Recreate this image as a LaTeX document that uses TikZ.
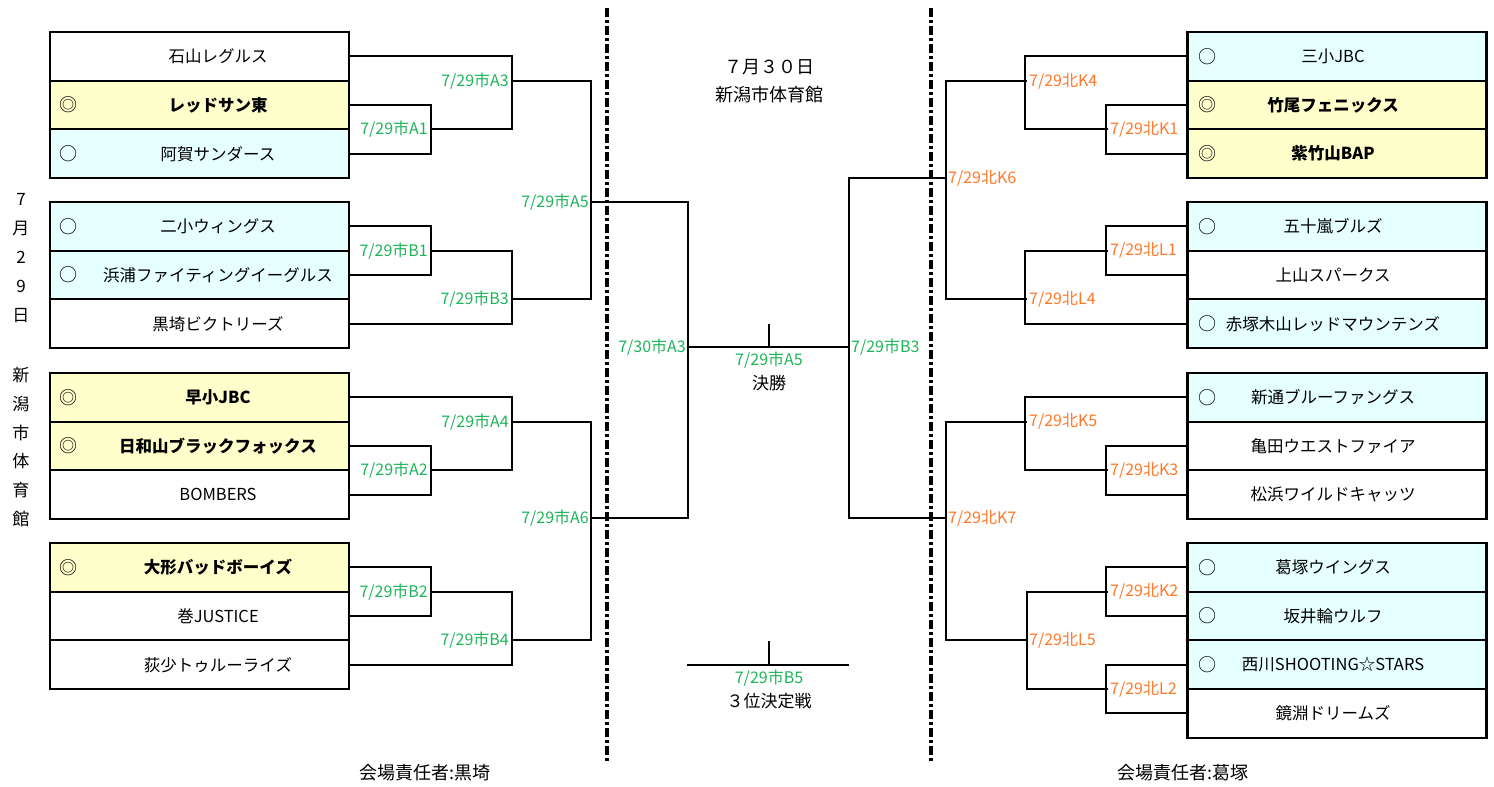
\documentclass[tikz,border=0pt]{standalone}
\usepackage{fontspec}
\setmainfont{Noto Sans CJK JP}
\usetikzlibrary{positioning}
\definecolor{amarillo}{RGB}{255,255,204}
\definecolor{celeste}{RGB}{230,255,255}
\definecolor{verde}{RGB}{30,180,90}
\definecolor{naranja}{RGB}{255,120,40}
\tikzset{
  fila/.style={draw, line width=2.1pt, minimum width=299pt, minimum height=48.7pt, inner sep=0pt},
  equipo/.style={font=\fontsize{16.5}{19}\selectfont, inner sep=0pt},
  marca/.style={font=\fontsize{18}{20}\selectfont, inner sep=0pt},
  llave/.style={line width=2pt},
  partidoA/.style={text=verde, font=\fontsize{16}{18}\selectfont, inner sep=2pt},
  partidoK/.style={text=naranja, font=\fontsize{16}{18}\selectfont, inner sep=2pt},
  texto/.style={font=\fontsize{17}{20}\selectfont, inner sep=0pt},
  separador/.style={line width=3.2pt, dash pattern=on 9pt off 3pt on 3pt off 3pt}
}

\begin{document}
\begin{tikzpicture}[x=1pt,y=-1pt]
        \useasboundingbox (0,0) rectangle (1494,787);

        % Equipos de la izquierda
        \foreach \n/\y/\c/\m/\t in {
          1/56.35/white/{}/{石山レグルス},
          2/105.05/amarillo/◎/{\bfseries レッドサン東},
          3/153.75/celeste/○/{阿賀サンダース},
          4/226.35/celeste/○/{二小ウィングス},
          5/275.05/celeste/○/{浜浦ファイティングイーグルス},
          6/323.75/white/{}/{黒埼ビクトリーズ},
          7/397.35/amarillo/◎/{\bfseries 早小JBC},
          8/446.05/amarillo/◎/{\bfseries 日和山ブラックフォックス},
          9/494.75/white/{}/{BOMBERS},
          10/567.35/amarillo/◎/{\bfseries 大形バッドボーイズ},
          11/616.05/white/{}/{巻JUSTICE},
          12/664.75/white/{}/{荻少トゥルーライズ}}{
          \node[fila, fill=\c] (l\n) at (199.5,\y) {};
          \node[marca] (lm\n) at (68,\y) {\m};
          \node[equipo] (lt\n) at (218,\y) {\t};
        }

        % Equipos de la derecha
        \foreach \n/\y/\c/\m/\t in {
          1/56.35/celeste/○/{三小JBC},
          2/105.05/amarillo/◎/{\bfseries 竹尾フェニックス},
          3/153.75/amarillo/◎/{\bfseries 紫竹山BAP},
          4/226.35/celeste/○/{五十嵐ブルズ},
          5/275.05/white/{}/{上山スパークス},
          6/323.75/celeste/○/{赤塚木山レッドマウンテンズ},
          7/397.35/celeste/○/{新通ブルーファングス},
          8/446.05/white/{}/{亀田ウエストファイア},
          9/494.75/white/{}/{松浜ワイルドキャッツ},
          10/567.35/celeste/○/{葛塚ウイングス},
          11/616.05/celeste/○/{坂井輪ウルフ},
          12/664.75/celeste/○/{西川SHOOTING☆STARS},
          13/713.45/white/{}/{鏡淵ドリームズ}}{
          \node[fila, fill=\c] (r\n) at (1337,\y) {};
          \node[marca] (rm\n) at (1207,\y) {\m};
          \node[equipo] (rt\n) at (1333,\y) {\t};
        }

        % Puntos de cruce de la llave izquierda
        \coordinate (a1) at (430,129.4);
        \coordinate (a3) at (511,81);
        \coordinate (b1) at (430,250.7);
        \coordinate (b3) at (511,299.4);
        \coordinate (a5) at (591,202);
        \coordinate (a2) at (430,470.4);
        \coordinate (a4) at (511,421.7);
        \coordinate (b2) at (430,591.7);
        \coordinate (b4) at (511,640.4);
        \coordinate (a6) at (591,518.4);

        % Llave izquierda
        \draw[llave] (l2.east) -- ++(81,0) |- (l3.east);
        \draw[llave] (l1.east) -- ++(162,0) |- (a1);
        \draw[llave] (l4.east) -- ++(81,0) |- (l5.east);
        \draw[llave] (l6.east) -- ++(162,0) |- (b1);
        \draw[llave] (a3) -- ++(80,0) |- (b3);
        \draw[llave] (l8.east) -- ++(81,0) |- (l9.east);
        \draw[llave] (l7.east) -- ++(162,0) |- (a2);
        \draw[llave] (l10.east) -- ++(81,0) |- (l11.east);
        \draw[llave] (l12.east) -- ++(162,0) |- (b2);
        \draw[llave] (a4) -- ++(80,0) |- (b4);

        \node[partidoA, anchor=east] (ta1) at (a1) {7/29市A1};
        \node[partidoA, anchor=east] (ta3) at (a3) {7/29市A3};
        \node[partidoA, anchor=east] (tb1) at (b1) {7/29市B1};
        \node[partidoA, anchor=east] (tb3) at (b3) {7/29市B3};
        \node[partidoA, anchor=east] (ta5) at (a5) {7/29市A5};
        \node[partidoA, anchor=east] (ta2) at (a2) {7/29市A2};
        \node[partidoA, anchor=east] (ta4) at (a4) {7/29市A4};
        \node[partidoA, anchor=east] (tb2) at (b2) {7/29市B2};
        \node[partidoA, anchor=east] (tb4) at (b4) {7/29市B4};
        \node[partidoA, anchor=east] (ta6) at (a6) {7/29市A6};

        % Puntos de cruce de la llave derecha
        \coordinate (k1) at (1108,129.4);
        \coordinate (k4) at (1027,81);
        \coordinate (l1c) at (1108,250.7);
        \coordinate (l4) at (1027,299.4);
        \coordinate (k6) at (946,178);
        \coordinate (k3) at (1108,470.4);
        \coordinate (k5) at (1027,421.7);
        \coordinate (k2) at (1108,591.7);
        \coordinate (l2c) at (1108,689.1);
        \coordinate (l5) at (1027,640.4);
        \coordinate (k7) at (946,518.4);

        % Llave derecha
        \draw[llave] (r2.west) -- ++(-80,0) |- (r3.west);
        \draw[llave] (r1.west) -- ++(-161,0) |- (k1);
        \draw[llave] (r4.west) -- ++(-80,0) |- (r5.west);
        \draw[llave] (r6.west) -- ++(-161,0) |- (l1c);
        \draw[llave] (k4) -- ++(-81,0) |- (l4);
        \draw[llave] (r8.west) -- ++(-80,0) |- (r9.west);
        \draw[llave] (r7.west) -- ++(-161,0) |- (k3);
        \draw[llave] (r10.west) -- ++(-80,0) |- (r11.west);
        \draw[llave] (r12.west) -- ++(-80,0) |- (r13.west);
        \draw[llave] (k2) -- ++(-81,0) |- (l2c);
        \draw[llave] (k5) -- ++(-81,0) |- (l5);

        \node[partidoK, anchor=west] (tk1) at (k1) {7/29北K1};
        \node[partidoK, anchor=west] (tk4) at (k4) {7/29北K4};
        \node[partidoK, anchor=west] (tl1) at (l1c) {7/29北L1};
        \node[partidoK, anchor=west] (tl4) at (l4) {7/29北L4};
        \node[partidoK, anchor=west] (tk6) at (k6) {7/29北K6};
        \node[partidoK, anchor=west] (tk3) at (k3) {7/29北K3};
        \node[partidoK, anchor=west] (tk5) at (k5) {7/29北K5};
        \node[partidoK, anchor=west] (tk2) at (k2) {7/29北K2};
        \node[partidoK, anchor=west] (tl2) at (l2c) {7/29北L2};
        \node[partidoK, anchor=west] (tl5) at (l5) {7/29北L5};
        \node[partidoK, anchor=west] (tk7) at (k7) {7/29北K7};

        % Final y tercer puesto
        \coordinate (fi) at (688,347);
        \coordinate (fc) at (769,347);
        \coordinate (fd) at (849,347);
        \draw[llave] (a5) -- ++(97,0) |- (a6);
        \draw[llave] (k6) -- ++(-97,0) |- (k7);
        \draw[llave] (fi) -- (fd);
        \draw[llave] (fc) -- ++(0,-23);
        \node[partidoA, anchor=east] (tf1) at (fi) {7/30市A3};
        \node[partidoA, anchor=west] (tf2) at (fd) {7/29市B3};
        \node[partidoA] (tfa5) at (769,360.5) {7/29市A5};
        \node[texto] (kessho) at (769,383) {決勝};

        \coordinate (ti) at (687,664.7);
        \coordinate (tc) at (769,664.7);
        \coordinate (td) at (849,664.7);
        \draw[llave] (ti) -- (td);
        \draw[llave] (tc) -- ++(0,-24);
        \node[partidoA] (tb5) at (769,678) {7/29市B5};
        \node[texto] (sanni) at (769,701) {３位決定戦};

        % Fecha y sede
        \node[texto, font=\fontsize{18}{20}\selectfont] (fecha) at (769,67) {７月３０日};
        \node[texto, font=\fontsize{18}{20}\selectfont] (sede) at (769,95) {新潟市体育館};
        \node[texto, align=center, font=\fontsize{17}{29}\selectfont] (dia) at (21,258.5) {7\\月\\2\\9\\日};
        \node[texto, align=center, font=\fontsize{17}{28.8}\selectfont] (gym) at (21,447) {新\\潟\\市\\体\\育\\館};

        % Separadores
        \draw[separador] (607,8) -- (607,762);
        \draw[separador] (931,8) -- (931,762);

        % Responsables
        \node[texto, font=\fontsize{18}{20}\selectfont] (resp1) at (425,773) {会場責任者:黒埼};
        \node[texto, font=\fontsize{18}{20}\selectfont] (resp2) at (1183,773) {会場責任者:葛塚};
    \end{tikzpicture}
\end{document}
